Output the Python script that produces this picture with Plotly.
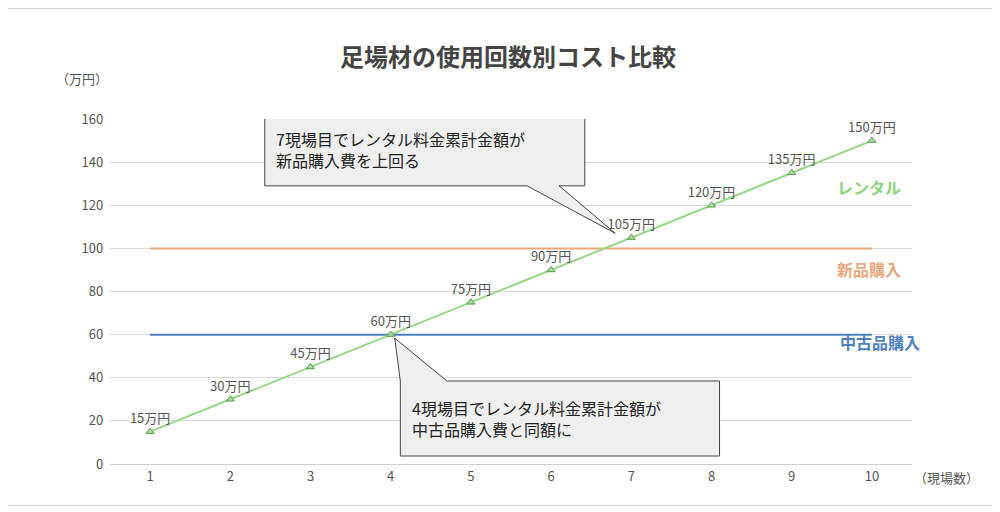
import plotly.graph_objects as go

sites = [1,2,3,4,5,6,7,8,9,10]
rental = [15,30,45,60,75,90,105,120,135,150]
new_cost = [100]*10
used_cost = [60]*10
labels = [f"{v}万円" for v in rental]
font = "Noto Sans CJK JP"

fig = go.Figure()
fig.add_trace(go.Scatter(x=sites, y=new_cost, mode="lines", line=dict(color="#eba77c", width=2), hoverinfo="skip"))
fig.add_trace(go.Scatter(x=sites, y=used_cost, mode="lines", line=dict(color="#4f7fc0", width=2), hoverinfo="skip"))
fig.add_trace(go.Scatter(x=sites, y=rental, mode="lines+markers+text", text=labels, textposition="top center",
    textfont=dict(size=13, color="#555"),
    line=dict(color="#96d686", width=2),
    marker=dict(symbol="triangle-up", size=7, color="#a8dca0", line=dict(color="#5a9a50", width=1))))

box = dict(type="path", xref="x", yref="y", fillcolor="#efefef", line=dict(color="#444", width=1), layer="above")
fig.add_shape(path="M 2.43,162.3 L 6.42,162.3 L 6.42,129 L 6.1,129 L 6.8,107 L 5.7,129 L 2.43,129 Z", **box)
fig.add_shape(path="M 4.12,3.7 L 4.12,38.5 L 4.05,58.4 L 4.7,38.5 L 8.1,38.5 L 8.1,3.7 Z", **box)

ann = [
    dict(x=2.55, y=146, text="7現場目でレンタル料金累計金額が<br>新品購入費を上回る", xanchor="left", align="left",
         font=dict(size=16, color="#222")),
    dict(x=4.24, y=21, text="4現場目でレンタル料金累計金額が<br>中古品購入費と同額に", xanchor="left", align="left",
         font=dict(size=16, color="#222")),
    dict(xref="paper", yref="paper", x=0.989, y=0.843, text="<b>レンタル</b>", xanchor="right",
         font=dict(size=16, color="#8fd47e")),
    dict(xref="paper", yref="paper", x=0.989, y=0.565, text="<b>新品購入</b>", xanchor="right",
         font=dict(size=16, color="#eba77c")),
    dict(xref="paper", yref="paper", x=1.012, y=0.313, text="<b>中古品購入</b>", xanchor="right",
         font=dict(size=16, color="#4f7fc0")),
    dict(xref="paper", yref="paper", x=-0.07, y=1.15, text="（万円）", xanchor="left", font=dict(size=13, color="#555")),
    dict(xref="paper", yref="paper", x=1.0, y=-0.04, text="（現場数）", xanchor="left", yanchor="middle",
         font=dict(size=13, color="#555")),
]
for a in ann:
    a.setdefault("showarrow", False)
    fig.add_annotation(**a)

fig.add_shape(type="rect", xref="paper", yref="paper", x0=-0.128, x1=1.101, y0=-0.12, y1=1.32,
              line=dict(color="#d0d0d0", width=1))

fig.update_layout(
    width=1000, height=512, showlegend=False, plot_bgcolor="white", paper_bgcolor="white",
    margin=dict(l=102, r=96, t=111, b=56),
    font=dict(family=font, color="#555"),
    title=dict(text="<b>足場材の使用回数別コスト比較</b>", x=0.5, y=0.92, xanchor="center",
               font=dict(size=24, color="#444")),
)
fig.update_xaxes(range=[0.5, 10.5], tickvals=sites, showgrid=False, zeroline=False, showline=True,
                 linecolor="#d0d0d0", tickfont=dict(size=13), ticks="")
fig.update_yaxes(range=[0, 160], dtick=20, gridcolor="#d9d9d9", zeroline=False, tickfont=dict(size=13),
                 ticksuffix="  ")
fig.write_html("out.html")
